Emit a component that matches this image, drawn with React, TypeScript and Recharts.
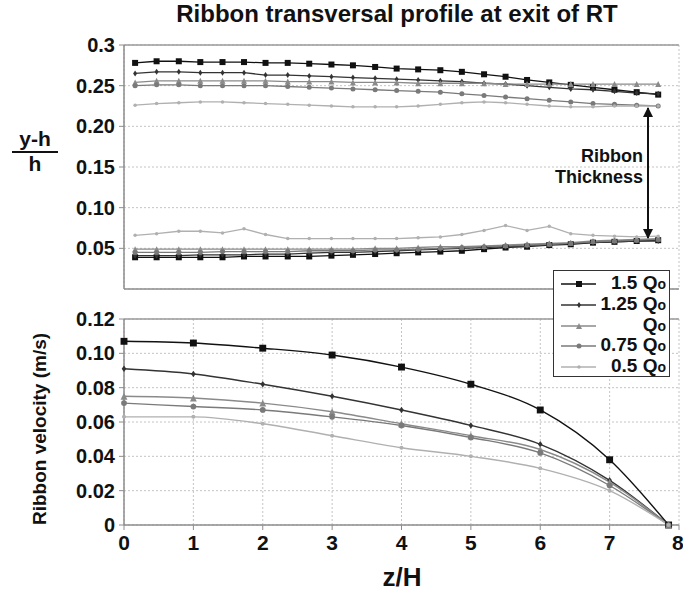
import React from "react";
import { LineChart, Line, XAxis, YAxis, CartesianGrid, ReferenceLine } from "recharts";

// top panel: positions along z/H where the profile was sampled
const zProfile = [0.16, 0.47, 0.79, 1.1, 1.42, 1.73, 2.04, 2.36, 2.67, 2.99, 3.3, 3.62, 3.93, 4.24, 4.56, 4.87, 5.19, 5.5, 5.81, 6.13, 6.44, 6.76, 7.07, 7.39, 7.7];

// upper surface (y-h)/h
const q150Upper = [0.278, 0.28, 0.28, 0.279, 0.279, 0.279, 0.278, 0.278, 0.277, 0.276, 0.275, 0.273, 0.271, 0.27, 0.269, 0.267, 0.264, 0.261, 0.257, 0.254, 0.251, 0.248, 0.245, 0.242, 0.239];
const q125Upper = [0.265, 0.267, 0.267, 0.266, 0.266, 0.266, 0.263, 0.263, 0.262, 0.261, 0.26, 0.259, 0.258, 0.257, 0.256, 0.255, 0.253, 0.252, 0.25, 0.248, 0.246, 0.245, 0.243, 0.241, 0.24];
const q100Upper = [0.254, 0.256, 0.256, 0.256, 0.256, 0.256, 0.256, 0.255, 0.255, 0.255, 0.254, 0.254, 0.254, 0.253, 0.253, 0.253, 0.253, 0.252, 0.252, 0.252, 0.252, 0.252, 0.252, 0.252, 0.252];
const q075Upper = [0.25, 0.251, 0.251, 0.25, 0.25, 0.25, 0.25, 0.249, 0.248, 0.247, 0.246, 0.245, 0.244, 0.243, 0.242, 0.24, 0.238, 0.236, 0.234, 0.232, 0.23, 0.228, 0.227, 0.226, 0.225];
const q050Upper = [0.226, 0.228, 0.229, 0.23, 0.23, 0.229, 0.228, 0.227, 0.226, 0.225, 0.224, 0.224, 0.224, 0.225, 0.227, 0.229, 0.23, 0.229, 0.227, 0.225, 0.224, 0.224, 0.225, 0.225, 0.225];

// lower surface (y-h)/h
const q150Lower = [0.039, 0.039, 0.039, 0.039, 0.039, 0.04, 0.04, 0.04, 0.04, 0.041, 0.042, 0.043, 0.044, 0.045, 0.046, 0.047, 0.049, 0.051, 0.052, 0.054, 0.055, 0.057, 0.058, 0.059, 0.06];
const q125Lower = [0.041, 0.041, 0.041, 0.042, 0.042, 0.042, 0.043, 0.043, 0.044, 0.045, 0.045, 0.046, 0.047, 0.048, 0.049, 0.05, 0.051, 0.052, 0.053, 0.055, 0.056, 0.057, 0.058, 0.059, 0.059];
const q100Lower = [0.049, 0.049, 0.049, 0.049, 0.049, 0.049, 0.049, 0.049, 0.049, 0.049, 0.049, 0.05, 0.05, 0.051, 0.052, 0.052, 0.053, 0.054, 0.055, 0.056, 0.057, 0.059, 0.06, 0.061, 0.062];
const q075Lower = [0.045, 0.045, 0.045, 0.045, 0.046, 0.046, 0.046, 0.046, 0.047, 0.047, 0.047, 0.048, 0.048, 0.049, 0.05, 0.051, 0.052, 0.053, 0.054, 0.055, 0.056, 0.058, 0.059, 0.06, 0.061];
const q050Lower = [0.066, 0.068, 0.071, 0.071, 0.069, 0.074, 0.067, 0.062, 0.062, 0.062, 0.062, 0.062, 0.062, 0.063, 0.064, 0.067, 0.072, 0.078, 0.072, 0.077, 0.068, 0.066, 0.065, 0.064, 0.065];

// bottom panel: ribbon velocity (m/s)
const zVelocity = [0, 1, 2, 3, 4, 5, 6, 7, 7.85];
const q150Vel = [0.107, 0.106, 0.103, 0.099, 0.092, 0.082, 0.067, 0.038, 0];
const q125Vel = [0.091, 0.088, 0.082, 0.075, 0.067, 0.058, 0.047, 0.026, 0];
const q100Vel = [0.075, 0.074, 0.071, 0.066, 0.059, 0.052, 0.044, 0.025, 0];
const q075Vel = [0.071, 0.069, 0.067, 0.063, 0.058, 0.051, 0.042, 0.023, 0];
const q050Vel = [0.063, 0.063, 0.059, 0.052, 0.045, 0.04, 0.033, 0.02, 0];

const xTicks = [0, 1, 2, 3, 4, 5, 6, 7, 8];
const topTicks = [0, 0.05, 0.1, 0.15, 0.2, 0.25, 0.3];
const topTickLabels = ["0", "0.05", "0.10", "0.15", "0.20", "0.25", "0.3"];
const botTicks = [0, 0.02, 0.04, 0.06, 0.08, 0.1, 0.12];
const botTickLabels = ["0", "0.02", "0.04", "0.06", "0.08", "0.10", "0.12"];

const series = [
  { key: "q150", prefix: "1.5 ", color: "#111111", shape: "square", size: 6 },
  { key: "q125", prefix: "1.25 ", color: "#333333", shape: "diamond", size: 4 },
  { key: "q100", prefix: "", color: "#8a8a8a", shape: "triangle", size: 6 },
  { key: "q075", prefix: "0.75 ", color: "#7a7a7a", shape: "circle", size: 5 },
  { key: "q050", prefix: "0.5 ", color: "#b0b0b0", shape: "circle", size: 3.5 },
];

const profileData = zProfile.map((z, i) => ({
  z,
  q150u: q150Upper[i], q150l: q150Lower[i],
  q125u: q125Upper[i], q125l: q125Lower[i],
  q100u: q100Upper[i], q100l: q100Lower[i],
  q075u: q075Upper[i], q075l: q075Lower[i],
  q050u: q050Upper[i], q050l: q050Lower[i],
}));

const velocityData = zVelocity.map((z, i) => ({
  z,
  q150: q150Vel[i], q125: q125Vel[i], q100: q100Vel[i], q075: q075Vel[i], q050: q050Vel[i],
}));

const FONT = "'Liberation Sans', Arial, sans-serif";

function Marker({ cx, cy, shape, size, color }: any) {
  const h = size / 2;
  if (shape === "square") return <rect x={cx - h} y={cy - h} width={size} height={size} fill={color} />;
  if (shape === "diamond") return <polygon points={`${cx},${cy - h - 1} ${cx + h},${cy} ${cx},${cy + h + 1} ${cx - h},${cy}`} fill={color} />;
  if (shape === "triangle") return <polygon points={`${cx},${cy - h} ${cx + h},${cy + h} ${cx - h},${cy + h}`} fill={color} />;
  return <circle cx={cx} cy={cy} r={h} fill={color} />;
}

function dotFor(s: any, scale = 1) {
  return (p: any) => {
    if (p.cx == null || p.cy == null) return <g key={`e-${p.index}`} />;
    return <Marker key={`d-${p.index}`} cx={p.cx} cy={p.cy} shape={s.shape} size={s.size * scale} color={s.color} />;
  };
}

const tickStyle = { fontSize: 20, fontWeight: 700, fill: "#111", fontFamily: FONT };
const axisLine = { stroke: "#8c8c8c", strokeWidth: 1.5 };

function Legend() {
  return (
    <div style={{ position: "absolute", left: 553, top: 270, width: 115, height: 105, background: "#fff", border: "1.5px solid #333", boxSizing: "content-box" }}>
      {series.map((s, i) => (
        <div key={s.key} style={{ position: "absolute", left: 0, top: 3 + i * 20.8, width: 115, height: 20 }}>
          <svg width={40} height={20} style={{ position: "absolute", left: 5, top: 0 }}>
            <line x1={2} y1={10} x2={37} y2={10} stroke={s.color} strokeWidth={1.5} />
            <Marker cx={20} cy={10} shape={s.shape} size={s.size} color={s.color} />
          </svg>
          <span style={{ position: "absolute", right: 3, top: -2, fontSize: 19, fontWeight: 700, color: "#111", fontFamily: FONT, whiteSpace: "nowrap" }}>
            {s.prefix}Q<span style={{ fontSize: 14 }}>o</span>
          </span>
        </div>
      ))}
    </div>
  );
}

export default function App() {
  return (
    <div style={{ position: "absolute", left: 0, top: 0, width: 683, height: 596, background: "#fff", fontFamily: FONT }}>
      <div style={{ position: "absolute", left: 100, width: 594, top: 0, textAlign: "center", fontSize: 24, fontWeight: 700, color: "#111" }}>
        Ribbon transversal profile at exit of RT
      </div>

      <div style={{ position: "absolute", left: 0, top: 0 }}>
        <LineChart width={683} height={300} data={profileData} margin={{ top: 45, right: 4, left: 64, bottom: 3 }}>
          <CartesianGrid stroke="#c4c4c4" strokeDasharray="2 2" />
          <XAxis type="number" dataKey="z" domain={[0, 8]} ticks={xTicks} tick={false} height={8} axisLine={axisLine} tickLine={{ stroke: "#8c8c8c" }} tickSize={5} />
          <YAxis type="number" domain={[0, 0.3]} ticks={topTicks} width={60} tick={tickStyle} tickFormatter={(v) => topTickLabels[topTicks.indexOf(v)]} axisLine={axisLine} tickLine={{ stroke: "#8c8c8c" }} tickSize={5} tickMargin={4} />
          <ReferenceLine y={0.3} stroke="#9a9a9a" strokeWidth={1.5} />
          {series.flatMap((s) => [
            <Line key={s.key + "u"} dataKey={s.key + "u"} stroke={s.color} strokeWidth={1.3} dot={dotFor(s)} activeDot={false} isAnimationActive={false} type="linear" />,
            <Line key={s.key + "l"} dataKey={s.key + "l"} stroke={s.color} strokeWidth={1.3} dot={dotFor(s)} activeDot={false} isAnimationActive={false} type="linear" />,
          ])}
        </LineChart>
      </div>

      <div style={{ position: "absolute", left: 0, top: 300 }}>
        <LineChart width={683} height={270} data={velocityData} margin={{ top: 19, right: 4, left: 64, bottom: 10 }}>
          <CartesianGrid stroke="#c4c4c4" strokeDasharray="2 2" />
          <XAxis type="number" dataKey="z" domain={[0, 8]} ticks={xTicks} height={35} tick={{ ...tickStyle, fontSize: 21 }} axisLine={axisLine} tickLine={{ stroke: "#8c8c8c" }} tickSize={5} tickMargin={5} />
          <YAxis type="number" domain={[0, 0.12]} ticks={botTicks} width={60} tick={tickStyle} tickFormatter={(v) => botTickLabels[botTicks.indexOf(v)]} axisLine={axisLine} tickLine={{ stroke: "#8c8c8c" }} tickSize={5} tickMargin={4} />
          <ReferenceLine y={0.12} stroke="#9a9a9a" strokeWidth={1.5} />
          {series.map((s) => (
            <Line key={s.key} dataKey={s.key} stroke={s.color} strokeWidth={1.4} dot={dotFor(s, 1.15)} activeDot={false} isAnimationActive={false} type="monotone" />
          ))}
        </LineChart>
      </div>

      {/* y label for top panel */}
      <div style={{ position: "absolute", left: 12, top: 128, width: 46, textAlign: "center", fontSize: 21, fontWeight: 700, color: "#111", lineHeight: "22px" }}>
        <div style={{ borderBottom: "2.5px solid #111", paddingBottom: 1 }}>y-h</div>
        <div>h</div>
      </div>

      {/* y label for bottom panel */}
      <div style={{ position: "absolute", left: 40, top: 429, width: 0, height: 0 }}>
        <div style={{ position: "absolute", left: 0, top: 0, transform: "translate(-50%, -50%) rotate(-90deg)", whiteSpace: "nowrap", fontSize: 19, fontWeight: 700, color: "#111" }}>
          Ribbon velocity (m/s)
        </div>
      </div>

      <div style={{ position: "absolute", left: 124, width: 556, top: 562, textAlign: "center", fontSize: 26, fontWeight: 700, color: "#111" }}>z/H</div>

      {/* ribbon thickness annotation */}
      <svg width={683} height={300} style={{ position: "absolute", left: 0, top: 0, pointerEvents: "none" }}>
        <defs>
          <marker id="ah" viewBox="0 0 10 10" refX={9} refY={5} markerWidth={5} markerHeight={6} orient="auto-start-reverse">
            <path d="M0,0 L10,5 L0,10 z" fill="#111" />
          </marker>
        </defs>
        <line x1={648} y1={108} x2={648} y2={238} stroke="#111" strokeWidth={2} markerStart="url(#ah)" markerEnd="url(#ah)" />
      </svg>
      <div style={{ position: "absolute", right: 683 - 643, top: 146, textAlign: "right", fontSize: 18, fontWeight: 700, color: "#111", lineHeight: "21px" }}>
        Ribbon<br />Thickness
      </div>

      <Legend />
    </div>
  );
}
